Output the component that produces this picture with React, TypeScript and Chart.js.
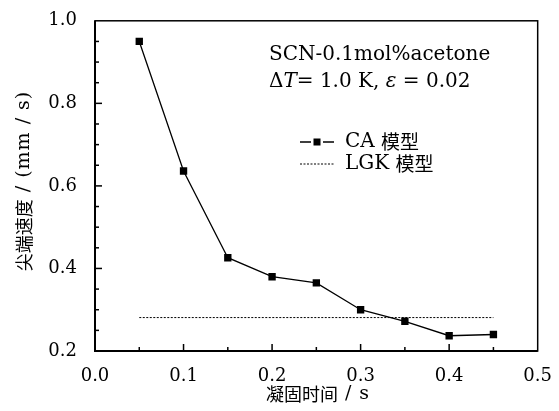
import React, { useEffect, useRef } from "react";
import { Chart, registerables } from "chart.js";

Chart.register(...registerables);

// Solidification time (s) and tip velocity (mm/s) from the CA model
const times = [0.05, 0.1, 0.15, 0.2, 0.25, 0.3, 0.35, 0.4, 0.45];
const caSpeeds = [0.95, 0.636, 0.426, 0.38, 0.365, 0.3, 0.272, 0.237, 0.24];

// Steady-state LGK prediction, spanning the same time range
const lgkTimes = [0.05, 0.45];
const lgkSpeeds = [0.281, 0.281];

const xTicks = [0, 0.1, 0.2, 0.3, 0.4, 0.5];
const yTicks = [0.2, 0.4, 0.6, 0.8, 1.0];

const seriesNames = ["CA 模型", "LGK 模型"];
const xTitleParts = ["凝固时间", " / s"];
const yTitleParts = ["尖端速度", " / (mm / s)"];
const noteLine1 = "SCN-0.1mol%acetone";

const SERIF = "'DejaVu Serif', 'Noto Sans CJK SC', serif";
const CJK = "'Noto Sans CJK SC', sans-serif";

type Seg = { text: string; font: string; spacing?: number };

function segWidth(ctx: CanvasRenderingContext2D, segs: Seg[]) {
  let w = 0;
  for (const s of segs) {
    ctx.font = s.font;
    (ctx as any).letterSpacing = `${s.spacing || 0}px`;
    w += ctx.measureText(s.text).width;
  }
  (ctx as any).letterSpacing = "0px";
  return w;
}

function drawSegs(ctx: CanvasRenderingContext2D, segs: Seg[], x: number, y: number) {
  let cx = x;
  for (const s of segs) {
    ctx.font = s.font;
    (ctx as any).letterSpacing = `${s.spacing || 0}px`;
    ctx.fillText(s.text, cx, y);
    cx += ctx.measureText(s.text).width;
  }
  (ctx as any).letterSpacing = "0px";
  return cx;
}

const framePlugin = {
  id: "frameAndNotes",
  afterDraw(chart: any) {
    const { ctx, chartArea } = chart;
    const { left, right, top, bottom } = chartArea;
    const xs = chart.scales.x;
    const ys = chart.scales.y;
    ctx.save();
    ctx.strokeStyle = "#000";

    // frame
    ctx.lineWidth = 1.5;
    ctx.strokeRect(left, top, right - left, bottom - top);
    ctx.lineWidth = 2;
    ctx.beginPath();
    ctx.moveTo(left, top);
    ctx.lineTo(left, bottom);
    ctx.lineTo(right, bottom);
    ctx.stroke();

    // inward ticks: majors every 0.1 / 0.2, minors every 0.05
    ctx.lineWidth = 1.5;
    for (let i = 1; i < 10; i++) {
      const px = xs.getPixelForValue(i * 0.05);
      const len = i % 2 === 0 ? 7 : 4;
      ctx.beginPath();
      ctx.moveTo(px, bottom);
      ctx.lineTo(px, bottom - len);
      ctx.stroke();
    }
    for (let i = 1; i < 16; i++) {
      const py = ys.getPixelForValue(0.2 + i * 0.05);
      const len = i % 4 === 0 ? 7 : 4;
      ctx.beginPath();
      ctx.moveTo(left, py);
      ctx.lineTo(left + len, py);
      ctx.stroke();
    }

    // axis titles
    ctx.fillStyle = "#000";
    ctx.textAlign = "left";
    ctx.textBaseline = "middle";
    const xSegs: Seg[] = [
      { text: xTitleParts[0], font: `18px ${CJK}` },
      { text: xTitleParts[1], font: `19px ${SERIF}`, spacing: 1 },
    ];
    const xw = segWidth(ctx, xSegs);
    drawSegs(ctx, xSegs, 318 - xw / 2, 394);

    const ySegs: Seg[] = [
      { text: yTitleParts[0], font: `18px ${CJK}` },
      { text: yTitleParts[1], font: `19px ${SERIF}`, spacing: 1 },
    ];
    const yw = segWidth(ctx, ySegs);
    ctx.save();
    ctx.translate(24, 181);
    ctx.rotate(-Math.PI / 2);
    drawSegs(ctx, ySegs, -yw / 2, 0);
    ctx.restore();

    // condition notes
    ctx.textAlign = "left";
    ctx.font = `20px ${SERIF}`;
    ctx.fillText(noteLine1, 269, 55);
    drawSegs(
      ctx,
      [
        { text: "\u0394", font: `20px ${SERIF}` },
        { text: "T", font: `italic 20px ${SERIF}` },
        { text: "= 1.0 K, ", font: `20px ${SERIF}` },
        { text: "\u03b5", font: `italic 20px ${SERIF}` },
        { text: " = 0.02", font: `20px ${SERIF}` },
      ],
      269,
      82
    );

    // legend
    const ds = chart.data.datasets;
    const lx0 = 300;
    const lx1 = 334;
    const mid = (lx0 + lx1) / 2;
    const rows = [142, 164];
    ds.forEach((d: any, i: number) => {
      const y = rows[i];
      ctx.strokeStyle = d.borderColor;
      ctx.lineWidth = d.borderWidth;
      ctx.setLineDash(d.borderDash || []);
      ctx.beginPath();
      if (d.pointRadius > 0) {
        ctx.moveTo(lx0, y);
        ctx.lineTo(mid - 6, y);
        ctx.moveTo(mid + 6, y);
        ctx.lineTo(lx1, y);
      } else {
        ctx.moveTo(lx0, y);
        ctx.lineTo(lx1, y);
      }
      ctx.stroke();
      ctx.setLineDash([]);
      if (d.pointRadius > 0) {
        ctx.fillStyle = d.pointBackgroundColor;
        ctx.fillRect(mid - 3.5, y - 3.5, 7, 7);
      }
      ctx.fillStyle = "#000";
      ctx.textBaseline = "middle";
      const [latin, cjk] = seriesNames[i].split(" ");
      drawSegs(
        ctx,
        [
          { text: latin + " ", font: `20px ${SERIF}` },
          { text: cjk, font: `19px ${CJK}` },
        ],
        345,
        y
      );
    });

    ctx.restore();
  },
};

export default function App() {
  const ref = useRef<HTMLCanvasElement | null>(null);

  useEffect(() => {
    if (!ref.current) return;
    const chart = new Chart(ref.current, {
      type: "line",
      data: {
        datasets: [
          {
            label: seriesNames[0],
            data: times.map((t, i) => ({ x: t, y: caSpeeds[i] })),
            borderColor: "#000",
            borderWidth: 1.3,
            pointStyle: "rect",
            pointRadius: 5.2,
            pointBackgroundColor: "#000",
            pointBorderColor: "#000",
            pointBorderWidth: 0,
            tension: 0,
          },
          {
            label: seriesNames[1],
            data: lgkTimes.map((t, i) => ({ x: t, y: lgkSpeeds[i] })),
            borderColor: "#000",
            borderWidth: 1,
            borderDash: [2, 1.5],
            pointRadius: 0,
            tension: 0,
          },
        ],
      },
      options: {
        responsive: false,
        animation: false,
        layout: { padding: { top: 19, right: 18, left: 0, bottom: 0 } },
        plugins: { legend: { display: false }, tooltip: { enabled: false } },
        scales: {
          x: {
            type: "linear",
            min: 0,
            max: 0.5,
            grid: { display: false },
            border: { display: false },
            afterFit: (s: any) => {
              s.height = 60;
            },
            afterBuildTicks: (s: any) => {
              s.ticks = xTicks.map((v) => ({ value: v }));
            },
            ticks: {
              padding: 7,
              color: "#000",
              maxRotation: 0,
              font: { family: SERIF, size: 18 },
              callback: (v: any) => Number(v).toFixed(1),
            },
          },
          y: {
            type: "linear",
            min: 0.2,
            max: 1.0,
            grid: { display: false },
            border: { display: false },
            afterFit: (s: any) => {
              s.width = 95;
            },
            afterBuildTicks: (s: any) => {
              s.ticks = yTicks.map((v) => ({ value: v }));
            },
            ticks: {
              padding: 10,
              color: "#000",
              font: { family: SERIF, size: 18 },
              callback: (v: any) => Number(v).toFixed(1),
            },
          },
        },
      },
      plugins: [framePlugin],
    });
    return () => chart.destroy();
  }, []);

  return (
    <div style={{ position: "fixed", left: 0, top: 0, width: 559, height: 411, background: "#fff" }}>
      <canvas ref={ref} width={559} height={411} style={{ display: "block" }} />
    </div>
  );
}
